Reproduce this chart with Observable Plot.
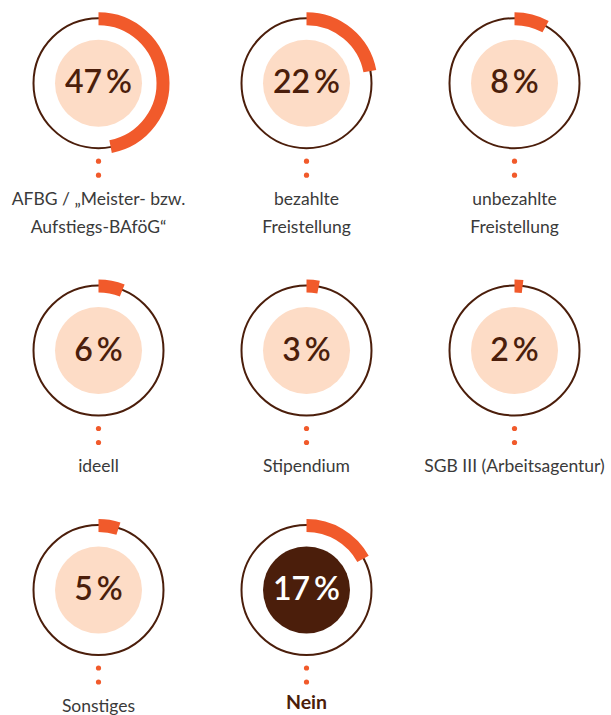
<!DOCTYPE html>
<html><head><meta charset="utf-8">
<script src="https://cdn.jsdelivr.net/npm/d3@7"></script>
<script src="https://cdn.jsdelivr.net/npm/@observablehq/plot@0.6"></script>
<style>body{margin:0;background:#fff;}</style>
</head><body><div id="chart"></div>
<script>
// Data
const categories = [
  "AFBG / „Meister- bzw.\nAufstiegs-BAföG“",
  "bezahlte\nFreistellung",
  "unbezahlte\nFreistellung",
  "ideell",
  "Stipendium",
  "SGB III (Arbeitsagentur)",
  "Sonstiges",
  "Nein"
];
const percentages = [47, 22, 8, 6, 3, 2, 5, 17];
const highlighted = ["Nein"];

// Layout (computed, not data)
const W = 611, H = 715;
const colX = c => 98 + 208 * c;
const rowY = [82.7, 350, 589.5];
const R = 64.5;
const ORANGE = "#f15a2b", BROWN = "#4b1e0b", PEACH = "#fddcc6", GREY = "#3a3a3a";

const rows = categories.map((label, i) => {
  const cx = colX(i % 3), cy = rowY[Math.floor(i / 3)];
  const value = percentages[i];
  const theta = value / 100 * 2 * Math.PI;
  const lines = label.split("\n").length;
  return {
    label, value, cx, cy, lines,
    hi: highlighted.includes(label),
    x1: cx, y1: cy - R,
    x2: cx + R * Math.sin(theta), y2: cy - R * Math.cos(theta),
    bend: (theta / 2) * 180 / Math.PI,
    labelY: cy + 113 + (lines - 1) * 14
  };
});

const marks = [
  Plot.dot(rows, {x: "cx", y: "cy", r: 65, stroke: BROWN, strokeWidth: 2, fill: "none"}),
  ...rows.map(d => Plot.arrow([d], {
    x1: "x1", y1: "y1", x2: "x2", y2: "y2",
    bend: d.bend, headLength: 0, stroke: ORANGE, strokeWidth: 13,
    strokeLinecap: "butt", strokeLinejoin: "miter"
  })),
  Plot.dot(rows, {x: "cx", y: "cy", r: 43.5, fill: d => d.hi ? BROWN : PEACH, stroke: "none"}),
  Plot.text(rows, {x: "cx", y: "cy", text: d => d.value + "\u2009%", fontSize: 32, fontWeight: 600,
    fill: d => d.hi ? "#ffffff" : BROWN, fontFamily: "Lato"}),
  Plot.dot(rows, {x: "cx", y: d => d.cy + 78, r: 2.6, fill: ORANGE}),
  Plot.dot(rows, {x: "cx", y: d => d.cy + 92, r: 2.6, fill: ORANGE}),
  Plot.text(rows.filter(d => !d.hi), {x: "cx", y: "labelY", text: "label", fontSize: 17.5,
    lineHeight: 1.6, fill: GREY, fontFamily: "Lato"}),
  Plot.text(rows.filter(d => d.hi), {x: "cx", y: "labelY", text: "label", fontSize: 19.5,
    fontWeight: "bold", fill: BROWN, fontFamily: "Lato"})
];

const chart = Plot.plot({
  width: W, height: H, margin: 0,
  x: {domain: [0, W], range: [0, W], axis: null},
  y: {domain: [0, H], range: [0, H], axis: null},
  style: {background: "#fff", fontFamily: "Lato"},
  marks
});
document.getElementById("chart").appendChild(chart);
</script>
</body></html>
